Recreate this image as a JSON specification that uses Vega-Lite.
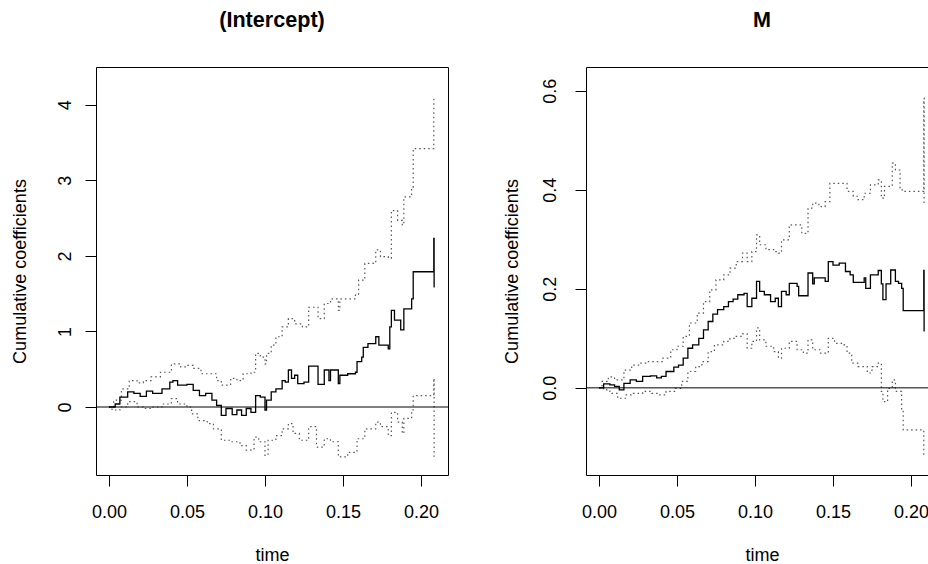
{
  "$schema": "https://vega.github.io/schema/vega-lite/v6.json",
  "autosize": {"type": "none"},
  "padding": {"left": 96, "top": 67, "right": 832, "bottom": 497},
  "background": "white",
  "config": {
    "view": {"stroke": "black", "strokeWidth": 1},
    "axis": {
      "labelFont": "Liberation Sans", "titleFont": "Liberation Sans",
      "labelFontSize": 18, "titleFontSize": 18, "titleFontWeight": "normal",
      "labelColor": "black", "titleColor": "black", "tickColor": "black",
      "tickSize": 11, "tickWidth": 1, "domain": false, "grid": false,
      "labelFlush": false, "labelOverlap": false
    },
    "title": {"font": "Liberation Sans", "fontSize": 21.6, "fontWeight": "bold", "color": "black", "anchor": "middle", "frame": "group", "baseline": "alphabetic", "offset": 35}
  },
  "datasets": {
    "I_est": [
      {"t":0,"v":0},{"t":0.004,"v":0.04},{"t":0.007,"v":0.13},{"t":0.012,"v":0.2},{"t":0.016,"v":0.18},{"t":0.02,"v":0.14},{"t":0.024,"v":0.21},{"t":0.028,"v":0.18},{"t":0.034,"v":0.24},{"t":0.039,"v":0.33},{"t":0.041,"v":0.35},{"t":0.044,"v":0.29},{"t":0.05,"v":0.3},{"t":0.054,"v":0.22},{"t":0.058,"v":0.15},{"t":0.062,"v":0.18},{"t":0.066,"v":0.09},{"t":0.069,"v":0.02},{"t":0.072,"v":-0.11},{"t":0.075,"v":-0.02},{"t":0.079,"v":-0.1},{"t":0.082,"v":-0.04},{"t":0.085,"v":-0.11},{"t":0.088,"v":-0.02},{"t":0.091,"v":-0.07},{"t":0.094,"v":0.15},{"t":0.097,"v":0.13},{"t":0.1,"v":-0.04},{"t":0.101,"v":0.09},{"t":0.104,"v":0.2},{"t":0.107,"v":0.24},{"t":0.111,"v":0.35},{"t":0.113,"v":0.33},{"t":0.115,"v":0.49},{"t":0.117,"v":0.38},{"t":0.119,"v":0.42},{"t":0.121,"v":0.31},{"t":0.125,"v":0.33},{"t":0.128,"v":0.54},{"t":0.134,"v":0.3},{"t":0.138,"v":0.49},{"t":0.141,"v":0.35},{"t":0.142,"v":0.49},{"t":0.147,"v":0.31},{"t":0.148,"v":0.42},{"t":0.153,"v":0.44},{"t":0.158,"v":0.46},{"t":0.159,"v":0.6},{"t":0.162,"v":0.66},{"t":0.163,"v":0.79},{"t":0.166,"v":0.84},{"t":0.171,"v":0.93},{"t":0.173,"v":0.82},{"t":0.179,"v":0.77},{"t":0.18,"v":1.06},{"t":0.181,"v":1.28},{"t":0.183,"v":1.15},{"t":0.187,"v":1.02},{"t":0.189,"v":1.3},{"t":0.194,"v":1.43},{"t":0.195,"v":1.79},{"t":0.2082,"v":2.23},{"t":0.2084,"v":1.58}
    ],
    "I_hi": [
      {"t":0,"v":0},{"t":0.003,"v":0.09},{"t":0.008,"v":0.24},{"t":0.013,"v":0.35},{"t":0.018,"v":0.32},{"t":0.022,"v":0.35},{"t":0.027,"v":0.4},{"t":0.033,"v":0.46},{"t":0.04,"v":0.57},{"t":0.046,"v":0.53},{"t":0.05,"v":0.55},{"t":0.054,"v":0.51},{"t":0.059,"v":0.44},{"t":0.066,"v":0.44},{"t":0.069,"v":0.35},{"t":0.072,"v":0.29},{"t":0.078,"v":0.38},{"t":0.082,"v":0.35},{"t":0.086,"v":0.44},{"t":0.091,"v":0.46},{"t":0.094,"v":0.71},{"t":0.097,"v":0.66},{"t":0.1,"v":0.57},{"t":0.101,"v":0.71},{"t":0.104,"v":0.82},{"t":0.107,"v":0.93},{"t":0.111,"v":1.06},{"t":0.115,"v":1.17},{"t":0.119,"v":1.1},{"t":0.124,"v":1.06},{"t":0.128,"v":1.32},{"t":0.134,"v":1.17},{"t":0.138,"v":1.37},{"t":0.142,"v":1.43},{"t":0.147,"v":1.28},{"t":0.148,"v":1.43},{"t":0.158,"v":1.48},{"t":0.16,"v":1.68},{"t":0.164,"v":1.9},{"t":0.171,"v":2.08},{"t":0.174,"v":1.99},{"t":0.179,"v":1.97},{"t":0.181,"v":2.6},{"t":0.185,"v":2.47},{"t":0.188,"v":2.41},{"t":0.189,"v":2.78},{"t":0.194,"v":2.91},{"t":0.195,"v":3.42},{"t":0.2082,"v":4.08}
    ],
    "I_lo": [
      {"t":0,"v":0},{"t":0.002,"v":-0.04},{"t":0.007,"v":0},{"t":0.012,"v":0.07},{"t":0.018,"v":0},{"t":0.022,"v":-0.02},{"t":0.027,"v":0},{"t":0.034,"v":0.04},{"t":0.04,"v":0.11},{"t":0.044,"v":0.04},{"t":0.05,"v":0},{"t":0.053,"v":-0.09},{"t":0.057,"v":-0.18},{"t":0.063,"v":-0.22},{"t":0.067,"v":-0.29},{"t":0.072,"v":-0.44},{"t":0.078,"v":-0.46},{"t":0.084,"v":-0.51},{"t":0.088,"v":-0.57},{"t":0.093,"v":-0.4},{"t":0.096,"v":-0.46},{"t":0.1,"v":-0.64},{"t":0.102,"v":-0.44},{"t":0.107,"v":-0.38},{"t":0.111,"v":-0.29},{"t":0.115,"v":-0.22},{"t":0.118,"v":-0.35},{"t":0.122,"v":-0.44},{"t":0.128,"v":-0.26},{"t":0.133,"v":-0.53},{"t":0.138,"v":-0.42},{"t":0.142,"v":-0.46},{"t":0.147,"v":-0.66},{"t":0.153,"v":-0.6},{"t":0.159,"v":-0.42},{"t":0.164,"v":-0.29},{"t":0.171,"v":-0.2},{"t":0.174,"v":-0.26},{"t":0.179,"v":-0.38},{"t":0.181,"v":-0.07},{"t":0.185,"v":-0.2},{"t":0.188,"v":-0.35},{"t":0.189,"v":-0.15},{"t":0.194,"v":-0.04},{"t":0.195,"v":0.15},{"t":0.2082,"v":0.38},{"t":0.2084,"v":-0.66}
    ],
    "M_est": [
      {"t":0,"v":0},{"t":0.003,"v":0.008},{"t":0.007,"v":0.006},{"t":0.01,"v":0.003},{"t":0.013,"v":-0.004},{"t":0.016,"v":0.009},{"t":0.02,"v":0.016},{"t":0.024,"v":0.013},{"t":0.028,"v":0.023},{"t":0.033,"v":0.024},{"t":0.037,"v":0.02},{"t":0.04,"v":0.023},{"t":0.043,"v":0.033},{"t":0.048,"v":0.042},{"t":0.051,"v":0.046},{"t":0.054,"v":0.06},{"t":0.057,"v":0.08},{"t":0.06,"v":0.087},{"t":0.064,"v":0.1},{"t":0.067,"v":0.117},{"t":0.07,"v":0.134},{"t":0.073,"v":0.149},{"t":0.076,"v":0.158},{"t":0.08,"v":0.164},{"t":0.083,"v":0.174},{"t":0.086,"v":0.179},{"t":0.089,"v":0.188},{"t":0.093,"v":0.191},{"t":0.095,"v":0.164},{"t":0.098,"v":0.181},{"t":0.101,"v":0.215},{"t":0.103,"v":0.195},{"t":0.106,"v":0.188},{"t":0.11,"v":0.174},{"t":0.113,"v":0.181},{"t":0.115,"v":0.164},{"t":0.117,"v":0.195},{"t":0.12,"v":0.188},{"t":0.122,"v":0.211},{"t":0.127,"v":0.205},{"t":0.128,"v":0.186},{"t":0.134,"v":0.232},{"t":0.137,"v":0.21},{"t":0.138,"v":0.222},{"t":0.145,"v":0.215},{"t":0.147,"v":0.255},{"t":0.15,"v":0.248},{"t":0.154,"v":0.252},{"t":0.158,"v":0.235},{"t":0.161,"v":0.228},{"t":0.163,"v":0.213},{"t":0.17,"v":0.222},{"t":0.171,"v":0.201},{"t":0.174,"v":0.228},{"t":0.179,"v":0.237},{"t":0.181,"v":0.21},{"t":0.182,"v":0.178},{"t":0.184,"v":0.21},{"t":0.187,"v":0.238},{"t":0.19,"v":0.215},{"t":0.192,"v":0.211},{"t":0.194,"v":0.201},{"t":0.195,"v":0.156},{"t":0.2082,"v":0.237},{"t":0.2084,"v":0.114}
    ],
    "M_hi": [
      {"t":0,"v":0},{"t":0.002,"v":0.013},{"t":0.006,"v":0.022},{"t":0.01,"v":0.016},{"t":0.016,"v":0.036},{"t":0.021,"v":0.046},{"t":0.026,"v":0.05},{"t":0.031,"v":0.053},{"t":0.041,"v":0.06},{"t":0.046,"v":0.077},{"t":0.05,"v":0.084},{"t":0.054,"v":0.104},{"t":0.058,"v":0.131},{"t":0.063,"v":0.151},{"t":0.067,"v":0.174},{"t":0.071,"v":0.198},{"t":0.075,"v":0.218},{"t":0.08,"v":0.228},{"t":0.084,"v":0.242},{"t":0.088,"v":0.255},{"t":0.092,"v":0.272},{"t":0.095,"v":0.255},{"t":0.098,"v":0.275},{"t":0.101,"v":0.309},{"t":0.103,"v":0.289},{"t":0.107,"v":0.279},{"t":0.112,"v":0.275},{"t":0.115,"v":0.272},{"t":0.117,"v":0.299},{"t":0.122,"v":0.329},{"t":0.13,"v":0.312},{"t":0.134,"v":0.363},{"t":0.137,"v":0.373},{"t":0.141,"v":0.366},{"t":0.145,"v":0.376},{"t":0.148,"v":0.413},{"t":0.159,"v":0.397},{"t":0.163,"v":0.387},{"t":0.166,"v":0.38},{"t":0.17,"v":0.393},{"t":0.174,"v":0.41},{"t":0.179,"v":0.42},{"t":0.181,"v":0.383},{"t":0.183,"v":0.407},{"t":0.188,"v":0.454},{"t":0.19,"v":0.44},{"t":0.193,"v":0.4},{"t":0.195,"v":0.397},{"t":0.2082,"v":0.585},{"t":0.2084,"v":0.373}
    ],
    "M_lo": [
      {"t":0,"v":0},{"t":0.003,"v":-0.004},{"t":0.007,"v":-0.011},{"t":0.012,"v":-0.021},{"t":0.017,"v":-0.014},{"t":0.022,"v":-0.011},{"t":0.028,"v":-0.007},{"t":0.034,"v":-0.011},{"t":0.039,"v":-0.014},{"t":0.043,"v":-0.007},{"t":0.049,"v":-0.001},{"t":0.053,"v":0.013},{"t":0.057,"v":0.033},{"t":0.062,"v":0.043},{"t":0.066,"v":0.053},{"t":0.07,"v":0.073},{"t":0.074,"v":0.087},{"t":0.08,"v":0.094},{"t":0.084,"v":0.1},{"t":0.088,"v":0.104},{"t":0.092,"v":0.109},{"t":0.095,"v":0.08},{"t":0.098,"v":0.094},{"t":0.101,"v":0.121},{"t":0.103,"v":0.097},{"t":0.107,"v":0.084},{"t":0.112,"v":0.073},{"t":0.115,"v":0.06},{"t":0.117,"v":0.08},{"t":0.122,"v":0.094},{"t":0.127,"v":0.077},{"t":0.131,"v":0.07},{"t":0.134,"v":0.097},{"t":0.137,"v":0.077},{"t":0.142,"v":0.07},{"t":0.147,"v":0.1},{"t":0.151,"v":0.09},{"t":0.157,"v":0.087},{"t":0.159,"v":0.07},{"t":0.162,"v":0.05},{"t":0.166,"v":0.043},{"t":0.172,"v":0.03},{"t":0.175,"v":0.043},{"t":0.179,"v":0.05},{"t":0.181,"v":-0.007},{"t":0.182,"v":-0.028},{"t":0.185,"v":-0.001},{"t":0.188,"v":0.016},{"t":0.19,"v":-0.007},{"t":0.194,"v":-0.044},{"t":0.195,"v":-0.085},{"t":0.2082,"v":-0.139}
    ]
  },
  "hconcat": [
    {
      "width": 352, "height": 408,
      "title": {"text": "(Intercept)"},
      "layer": [
        {
          "data": {"name": "I_hi"},
          "mark": {"type": "line", "interpolate": "step-after", "color": "#555", "strokeWidth": 1.2, "strokeDash": [1.5, 3]},
          "encoding": {
            "x": {"field": "t", "type": "quantitative", "scale": {"domain": [-0.0083, 0.2173], "nice": false, "zero": false},
                  "axis": {"values": [0, 0.05, 0.1, 0.15, 0.2], "format": ".2f", "title": "time", "labelBaseline": "alphabetic", "labelPadding": 31, "titleX": 176, "titleY": 85, "titleBaseline": "alphabetic", "titleAlign": "center"}},
            "y": {"field": "v", "type": "quantitative", "scale": {"domain": [-0.9, 4.5], "nice": false, "zero": false},
                  "axis": {"values": [0, 1, 2, 3, 4], "format": "d", "title": "Cumulative coefficients", "labelAngle": 270, "labelAlign": "center", "labelBaseline": "alphabetic", "labelPadding": 15, "titleAngle": 270, "titleX": -71, "titleY": 204, "titleAlign": "center", "titleBaseline": "alphabetic"}}
          }
        },
        {
          "data": {"name": "I_lo"},
          "mark": {"type": "line", "interpolate": "step-after", "color": "#555", "strokeWidth": 1.2, "strokeDash": [1.5, 3]},
          "encoding": {"x": {"field": "t", "type": "quantitative"}, "y": {"field": "v", "type": "quantitative"}}
        },
        {
          "data": {"name": "I_est"},
          "mark": {"type": "line", "interpolate": "step-after", "color": "black", "strokeWidth": 1.3},
          "encoding": {"x": {"field": "t", "type": "quantitative"}, "y": {"field": "v", "type": "quantitative"}}
        },
        {
          "data": {"values": [{}]},
          "mark": {"type": "rule", "color": "black", "strokeWidth": 1},
          "encoding": {"y": {"datum": 0, "type": "quantitative"}}
        }
      ]
    },
    {
      "width": 342, "height": 408,
      "title": {"text": "M", "dx": 5},
      "layer": [
        {
          "data": {"name": "M_hi"},
          "mark": {"type": "line", "interpolate": "step-after", "color": "#555", "strokeWidth": 1.2, "strokeDash": [1.5, 3], "clip": true},
          "encoding": {
            "x": {"field": "t", "type": "quantitative", "scale": {"domain": [-0.0083, 0.2109], "nice": false, "zero": false},
                  "axis": {"values": [0, 0.05, 0.1, 0.15, 0.2], "format": ".2f", "title": "time", "labelBaseline": "alphabetic", "labelPadding": 31, "titleX": 176, "titleY": 85, "titleBaseline": "alphabetic", "titleAlign": "center"}},
            "y": {"field": "v", "type": "quantitative", "scale": {"domain": [-0.176, 0.648], "nice": false, "zero": false},
                  "axis": {"values": [0, 0.2, 0.4, 0.6], "format": ".1f", "title": "Cumulative coefficients", "labelAngle": 270, "labelAlign": "center", "labelBaseline": "alphabetic", "labelPadding": 20, "titleAngle": 270, "titleX": -69, "titleY": 204, "titleAlign": "center", "titleBaseline": "alphabetic"}}
          }
        },
        {
          "data": {"name": "M_lo"},
          "mark": {"type": "line", "interpolate": "step-after", "color": "#555", "strokeWidth": 1.2, "strokeDash": [1.5, 3], "clip": true},
          "encoding": {"x": {"field": "t", "type": "quantitative"}, "y": {"field": "v", "type": "quantitative"}}
        },
        {
          "data": {"name": "M_est"},
          "mark": {"type": "line", "interpolate": "step-after", "color": "black", "strokeWidth": 1.3, "clip": true},
          "encoding": {"x": {"field": "t", "type": "quantitative"}, "y": {"field": "v", "type": "quantitative"}}
        },
        {
          "data": {"values": [{}]},
          "mark": {"type": "rule", "color": "black", "strokeWidth": 1},
          "encoding": {"y": {"datum": 0, "type": "quantitative"}}
        }
      ]
    }
  ],
  "spacing": 138,
  "bounds": "flush"
}
